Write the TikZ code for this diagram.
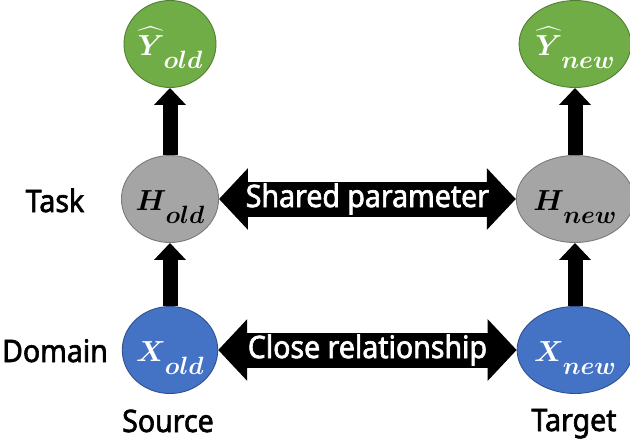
\RequirePackage{fix-cm}
\documentclass[tikz,border=0pt]{standalone}
\usepackage{amsmath,amsbsy}
\usepackage{fontspec}
\setmainfont{Noto Sans}[FakeStretch=0.92,FakeBold=2]
\usetikzlibrary{shapes.geometric,arrows.meta}
\definecolor{cgreen}{HTML}{70AD47}
\definecolor{cgreenb}{HTML}{507E32}
\definecolor{cblue}{HTML}{4472C4}
\definecolor{cblueb}{HTML}{2F528F}
\definecolor{cgray}{HTML}{A5A5A5}
\definecolor{cgrayb}{HTML}{7A7A7A}
\newcommand\vlab[2]{$\boldsymbol{#1}$\kern-1pt\raisebox{-0.45em}{\fontsize{25}{25}\selectfont$\boldsymbol{#2}$}}
\tikzset{
  varnode/.style={ellipse, minimum width=92pt, minimum height=87pt, inner sep=0pt,
    line width=0.9pt, font=\fontsize{29}{29}\selectfont, text height=25pt, text depth=3pt},
  outnode/.style={varnode, fill=cgreen, draw=cgreenb, text=white},
  hidnode/.style={varnode, fill=cgray, draw=cgrayb, text=black},
  innode/.style={varnode, fill=cblue, draw=cblueb, text=white},
  fatup/.style={line width=15pt, -{Triangle[length=17pt,width=31pt]}},
  fatboth/.style={line width=35pt, {Triangle[length=29pt,width=60pt]}-{Triangle[length=29pt,width=60pt]}},
  arrtext/.style={text=white, font=\fontsize{31}{31}\selectfont, inner sep=0pt},
  sidetext/.style={font=\fontsize{31}{31}\selectfont, anchor=base, inner sep=0pt}
}
\begin{document}
\begin{tikzpicture}[x=1pt,y=-1pt]
\fill[white] (0,0) rectangle (630,440);
\useasboundingbox (0,0) rectangle (630,440);
\node[outnode] (yold) at (170,44) {\vlab{\widehat{Y}}{old}};
\node[hidnode] (hold) at (170,199) {\vlab{H}{old}};
\node[innode]  (xold) at (170,350) {\vlab{X}{old}};
\node[outnode] (ynew) at (575,44) {\vlab{\widehat{Y}}{new}};
\node[hidnode] (hnew) at (575,199) {\vlab{H}{new}};
\node[innode]  (xnew) at (575,350) {\vlab{X}{new}};
\draw[fatup] (hold.north) -- (yold.south);
\draw[fatup] (xold.north) -- (hold.south);
\draw[fatup] (hnew.north) -- (ynew.south);
\draw[fatup] (xnew.north) -- (hnew.south);
\draw[fatboth] (hold.east) -- node[arrtext] (shp) {Shared parameter} (hnew.west);
\draw[fatboth] (xold.east) -- node[arrtext] (clr) {Close relationship} (xnew.west);
\node[sidetext] (task) at (55,212) {Task};
\node[sidetext] (dom) at (55,362) {Domain};
\node[sidetext] (src) at (168,432) {Source};
\node[sidetext] (tgt) at (574,431) {Target};
\end{tikzpicture}
\end{document}
